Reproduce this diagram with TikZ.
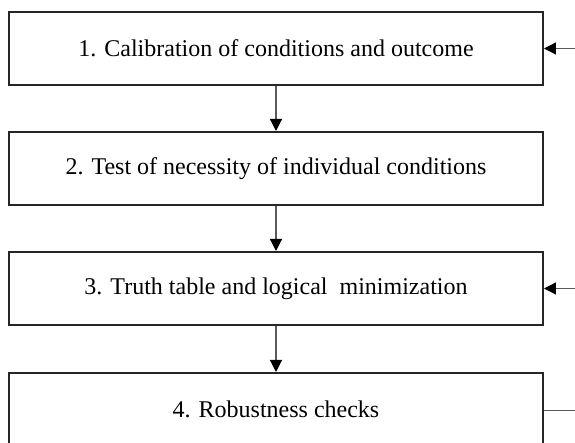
\documentclass[tikz,border=0pt]{standalone}
\usepackage{fontspec}
\setmainfont{Liberation Serif}
\usetikzlibrary{arrows.meta}
\tikzset{
  stepbox/.style={draw=black!85, line width=1pt, fill=white, minimum width=267pt, minimum height=36.5pt, inner sep=0pt, font=\fontsize{12}{14}\selectfont},
  arr/.style={draw=black!65, line width=0.6pt, -{Triangle[length=6pt,width=6pt,color=black]}},
  plain/.style={draw=black!65, line width=0.6pt}
}
\begin{document}
\begin{tikzpicture}[x=0.5pt,y=-0.5pt]
\useasboundingbox (0,0) rectangle (575,443);
\clip (0,0) rectangle (575,443);
\node[stepbox] (b1) at (276,48.5) {1. Calibration of conditions and outcome};
\node[stepbox] (b2) at (276,168.5) {2. Test of necessity of individual conditions};
\node[stepbox] (b3) at (276,288.5) {3. Truth table and logical\ \ minimization};
\node[stepbox] (b4) at (276,409.5) {4. Robustness checks};
\coordinate (r1) at (576,48.5);
\coordinate (r3) at (576,288.5);
\coordinate (r4) at (576,410.5);
\draw[arr] (b1) -- (b2);
\draw[arr] (b2) -- (b3);
\draw[arr] (b3) -- (b4);
\draw[arr] (r1) -- (b1.east);
\draw[arr] (r3) -- (b3.east);
\draw[plain] (b4.east |- r4) -- (r4);
\end{tikzpicture}
\end{document}
